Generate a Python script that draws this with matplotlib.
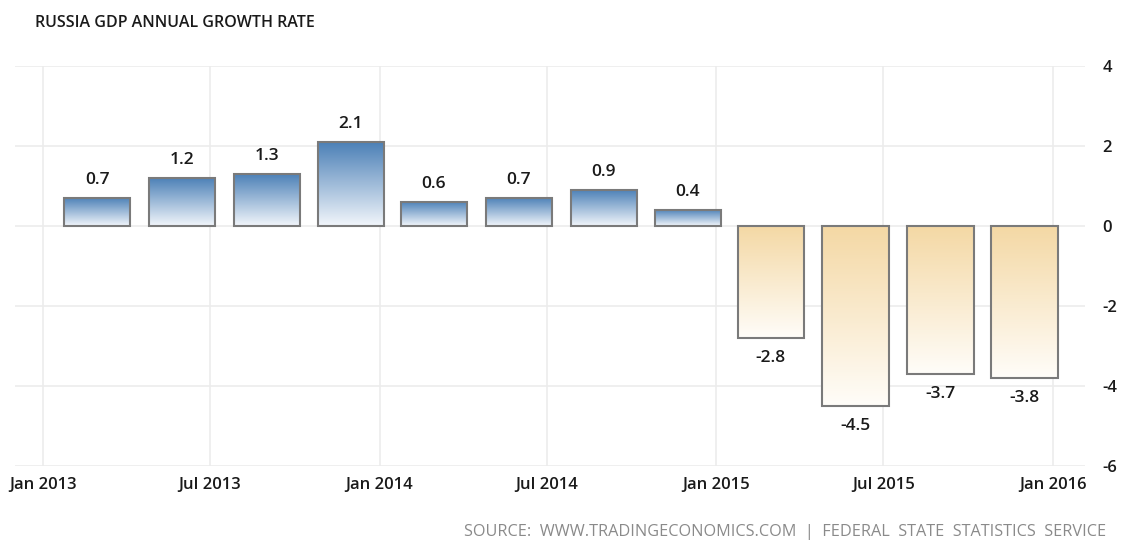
import datetime as dt

import matplotlib
matplotlib.use('Agg')
import matplotlib.dates as mdates
import matplotlib.pyplot as plt
import numpy as np
from matplotlib.colors import LinearSegmentedColormap

plt.rcParams['font.family'] = ['Open Sans', 'DejaVu Sans']

# Datos: crecimiento anual del PIB de Rusia (trimestral)
fechas = ['2013-03-01', '2013-06-01', '2013-09-01', '2013-12-01',
          '2014-03-01', '2014-06-01', '2014-09-01', '2014-12-01',
          '2015-03-01', '2015-06-01', '2015-09-01', '2015-12-01']
valores = [0.7, 1.2, 1.3, 2.1, 0.6, 0.7, 0.9, 0.4, -2.8, -4.5, -3.7, -3.8]
ticks_x = ['2013-01-01', '2013-07-01', '2014-01-01', '2014-07-01',
           '2015-01-01', '2015-07-01', '2016-01-01']
etiquetas_x = ['Jan 2013', 'Jul 2013', 'Jan 2014', 'Jul 2014',
               'Jan 2015', 'Jul 2015', 'Jan 2016']
ticks_y = [-6, -4, -2, 0, 2, 4]

fig = plt.figure(figsize=(11.28, 5.43), dpi=100)
ax = fig.add_axes([0.0133, 0.1418, 0.949, 0.7367])

xs = mdates.date2num([dt.date.fromisoformat(f) for f in fechas])
xt = mdates.date2num([dt.date.fromisoformat(f) for f in ticks_x])

cmap_pos = LinearSegmentedColormap.from_list('pos', ['#f2f6fb', '#4a7fb6'])
cmap_neg = LinearSegmentedColormap.from_list('neg', ['#fffdf9', '#f4d8a4'])
ancho = 72
grad = np.linspace(0, 1, 256).reshape(-1, 1)
color_txt = '#1a1a1a'

for x, v in zip(xs, valores):
    x0, x1 = x - ancho / 2, x + ancho / 2
    if v >= 0:
        ax.imshow(grad, extent=[x0, x1, 0, v], origin='lower', aspect='auto',
                  cmap=cmap_pos, zorder=2)
        ax.text(x, v + 0.25, f'{v:.1f}', ha='center', va='bottom',
                fontsize=12.5, fontweight='semibold', color=color_txt)
    else:
        ax.imshow(grad, extent=[x0, x1, v, 0], origin='lower', aspect='auto',
                  cmap=cmap_neg, zorder=2)
        ax.text(x, v - 0.3, f'{v:.1f}', ha='center', va='top',
                fontsize=12.5, fontweight='semibold', color=color_txt)
    ax.bar(x, v, width=ancho, facecolor='none', edgecolor='#7a7a7a',
           linewidth=1.5, zorder=3)

ax.set_xlim(mdates.date2num(dt.date(2012, 12, 2)),
            mdates.date2num(dt.date(2016, 2, 5)))
ax.set_ylim(-6, 4)

ax.set_xticks(xt)
ax.set_xticklabels(etiquetas_x, fontsize=12, fontweight='semibold', color=color_txt)
ax.set_yticks(ticks_y)
ax.set_yticklabels([str(t) for t in ticks_y], fontsize=12, fontweight='semibold',
                   color=color_txt)
ax.yaxis.tick_right()
ax.tick_params(axis='both', length=0)
ax.tick_params(axis='x', pad=8)
ax.tick_params(axis='y', pad=12)

ax.grid(True, color='#ececec', linewidth=1.2, zorder=0)
ax.set_axisbelow(True)
for s in ax.spines.values():
    s.set_visible(False)

fig.text(0.031, 0.958, 'RUSSIA GDP ANNUAL GROWTH RATE', fontsize=11.5,
         fontweight='semibold', color=color_txt, ha='left', va='center')
fig.text(0.981, 0.02,
         'SOURCE:  WWW.TRADINGECONOMICS.COM  |  FEDERAL  STATE  STATISTICS  SERVICE',
         fontsize=11.7, color='#8a8a8a', ha='right', va='center')

fig.savefig('out.png', dpi=100)
